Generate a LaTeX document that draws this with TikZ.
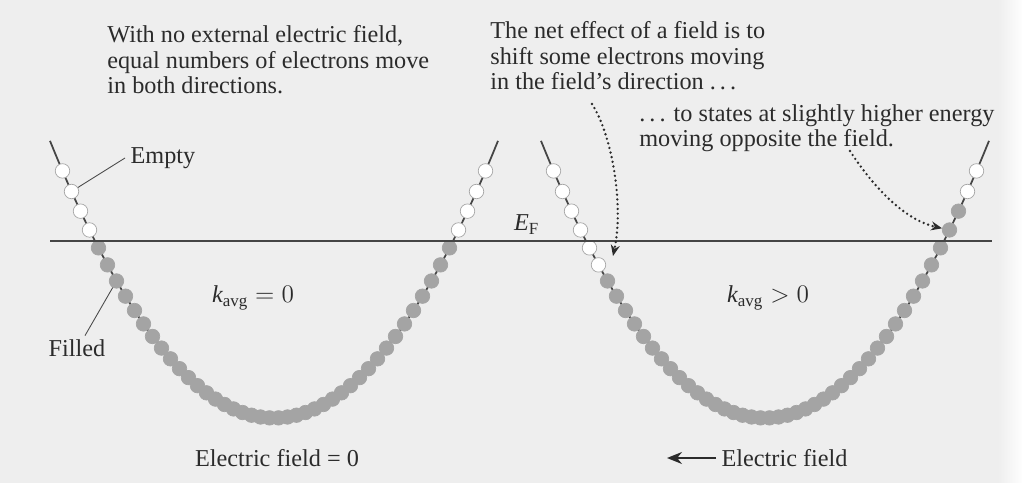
\documentclass[tikz,border=0pt]{standalone}
\usepackage{fontspec}
\setmainfont{Liberation Serif}
\usetikzlibrary{arrows.meta}
\definecolor{paper}{HTML}{EEEEEE}
\definecolor{ink}{HTML}{2B2B2B}
\definecolor{band}{HTML}{A4A4A4}
\definecolor{rim}{HTML}{A6A6A6}
\definecolor{wire}{HTML}{454545}

\begin{document}
\begin{tikzpicture}[x=0.02cm,y=-0.02cm,
  dot/.style={circle,inner sep=0pt,minimum size=0.29cm,line width=0.4pt},
  lb/.style={font=\fontsize{13.8}{14.6}\selectfont,text=ink,inner sep=0pt},
  tx/.style={lb,align=left,anchor=north west},
  ld/.style={draw=ink!85,line width=0.5pt},
  dt/.style={draw=ink,line width=1.5pt,dash pattern=on 0pt off 2.7pt,line cap=round,
             -{Stealth[length=2.2mm,width=1.8mm]}},
  crv/.style={draw=wire,line width=1pt}
]
\fill[paper] (0,0) rectangle (1022,483);
\shade[left color=paper,right color=white!92!paper] (998,0) rectangle (1022,483);
\useasboundingbox (0,0) rectangle (1022,483);

% the two bands
\draw[crv] plot[domain=-224:224,samples=90] ({274+\x},{418-0.00552*(\x)*(\x)});
\draw[crv] plot[domain=-224:224,samples=90] ({765+\x},{418-0.00552*(\x)*(\x)});

% states, equally spaced in k
\foreach \n in {0,...,23}{
  \pgfmathsetmacro\dx{4.5+9*\n}
  \pgfmathsetmacro\yy{418-0.00552*\dx*\dx}
  \ifnum\n<20 \def\lc{band}\def\rc{band}\else\def\lc{white}\def\rc{rim}\fi
  \node[dot,fill=\lc,draw=\rc] (La\n) at (274-\dx,\yy) {};
  \node[dot,fill=\lc,draw=\rc] (Lb\n) at (274+\dx,\yy) {};
  \ifnum\n<18 \def\lc{band}\def\rc{band}\else\def\lc{white}\def\rc{rim}\fi
  \node[dot,fill=\lc,draw=\rc] (Ra\n) at (765-\dx,\yy) {};
  \ifnum\n<22 \def\lc{band}\def\rc{band}\else\def\lc{white}\def\rc{rim}\fi
  \node[dot,fill=\lc,draw=\rc] (Rb\n) at (765+\dx,\yy) {};
}

% Fermi level
\coordinate (efl) at (50,241);
\coordinate (efr) at (992,241);
\draw[draw=wire,line width=1.1pt] (efl) -- node[lb,pos=0.506,above=3pt]{$\mathit{E}_{\mathrm{F}}$} (efr);

% texts
\node[tx] (nofield) at (107,25) {With no external electric field,\\equal numbers of electrons move\\in both directions.};
\node[tx] (neteff) at (490,21) {The net effect of a field is to\\shift some electrons moving\\in the field's direction .\,.\,.};
\node[tx] (higher) at (639,104) {.\,.\,. to states at slightly higher energy\\moving opposite the field.};
\node[lb,anchor=west,inner xsep=3pt] (empty) at (125,158) {Empty};
\node[lb] (filled) at (77,348) {Filled};
\node[lb] (kzero) at (253,298) {$\mathit{k}_{\mathrm{avg}} = 0$};
\node[lb] (kpos) at (768,298) {$\mathit{k}_{\mathrm{avg}} > 0$};
\node[lb] (fzero) at (277,458) {Electric field = 0};
\node[lb,anchor=west,inner xsep=3pt] (fdir) at (716,458) {Electric field};
\coordinate (ftip) at (667,458);

% leaders and arrows
\draw[ld] (empty.west) -- (La22);
\draw[ld] ([xshift=0.16cm,yshift=2pt]filled.north) -- (La17);
\draw[draw=ink,line width=1.1pt,-{Stealth[length=3mm,width=2.4mm]}] (fdir) -- (ftip);
\coordinate (d1s) at (592,104);
\coordinate (d1e) at (613,256);
\draw[dt] (d1s) .. controls (612,135) and (624,205) .. (d1e);
\coordinate (d2s) at (850,151);
\draw[dt] (d2s) .. controls (874,188) and (905,220) .. (Rb20);
\end{tikzpicture}
\end{document}
